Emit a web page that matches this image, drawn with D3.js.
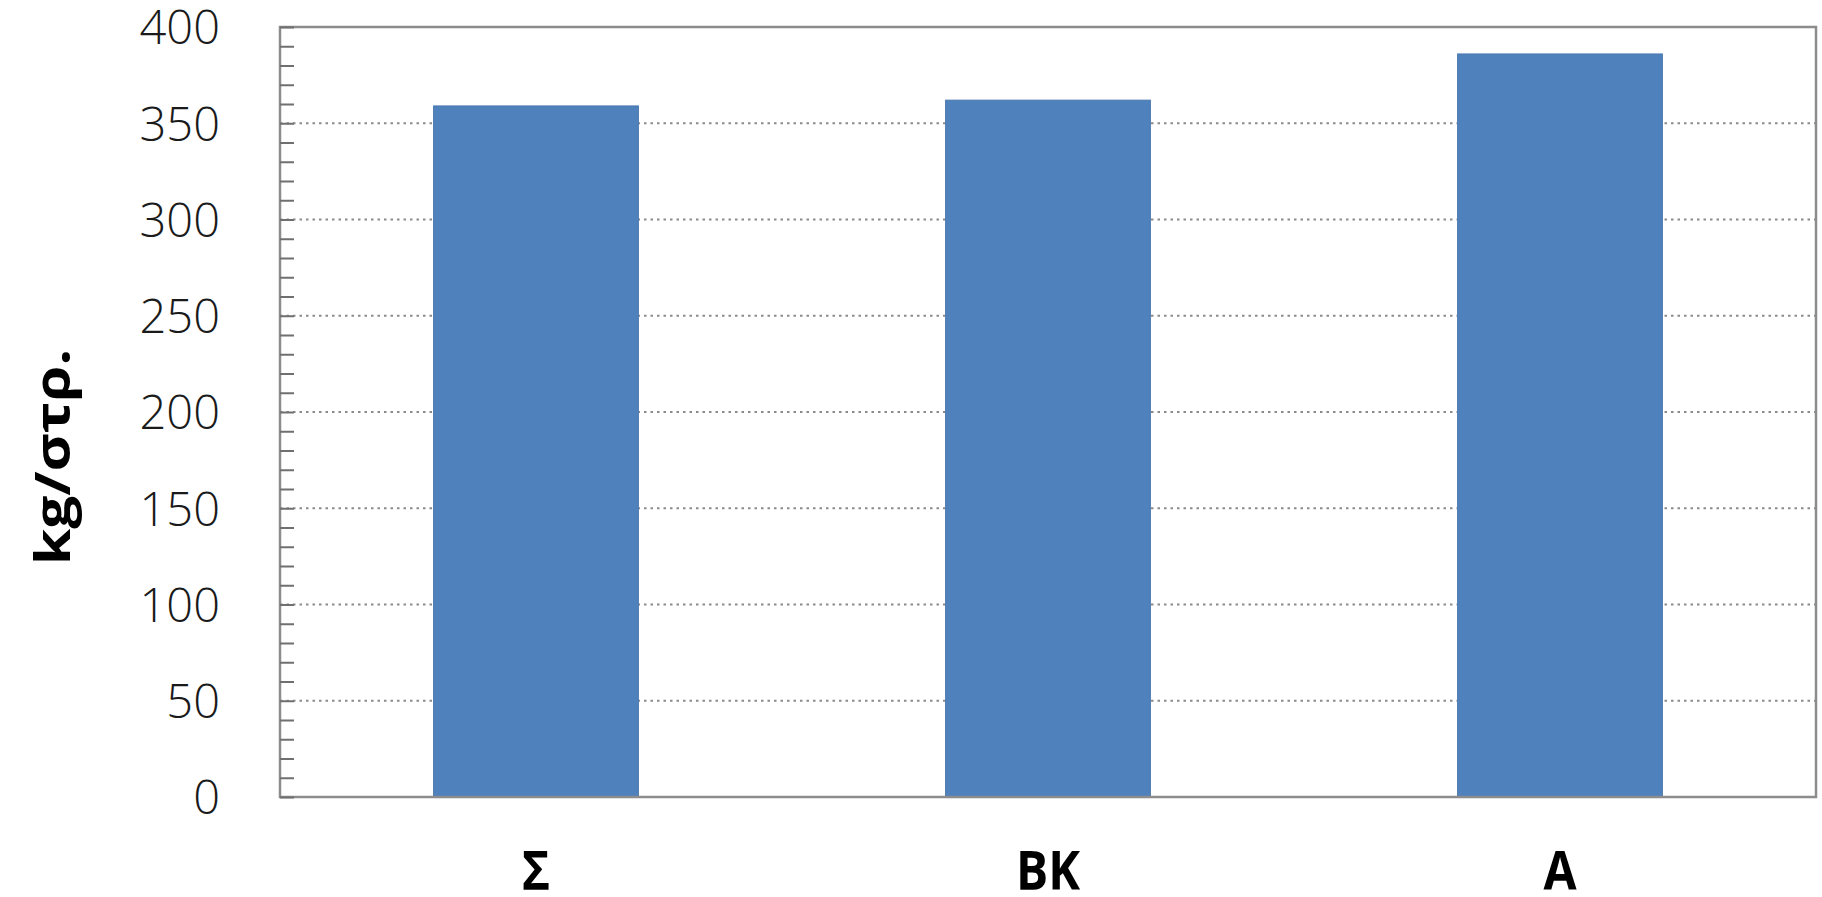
<!DOCTYPE html>
<html>
<head>
<meta charset="utf-8">
<script src="https://cdn.jsdelivr.net/npm/d3@7"></script>
<style>
  html, body { margin: 0; padding: 0; background: #fff; }
  svg { display: block; }
</style>
</head>
<body>
<svg id="chart" width="1822" height="897"></svg>
<script>
// Yield per stremma for each category
const categories = ["Σ", "ΒΚ", "Α"];
const values = [359, 362, 386];
const majorTicks = [0, 50, 100, 150, 200, 250, 300, 350, 400];
const minorTicks = d3.range(0, 401, 10);
const yTitle = "kg/στρ.";

const svg = d3.select("#chart");
const plot = { left: 280, right: 1816, top: 27, bottom: 797 };

const x = d3.scaleBand()
  .domain(categories)
  .range([plot.left, plot.right])
  .paddingInner(0.6)
  .paddingOuter(0.3);

const y = d3.scaleLinear()
  .domain([0, 400])
  .range([plot.bottom, plot.top]);

// dotted horizontal gridlines
svg.append("g")
  .selectAll("line")
  .data(majorTicks.filter(v => v > 0 && v < 400))
  .join("line")
  .attr("x1", plot.left)
  .attr("x2", plot.right)
  .attr("y1", d => y(d))
  .attr("y2", d => y(d))
  .attr("stroke", "#8a8a8a")
  .attr("stroke-width", 2)
  .attr("stroke-dasharray", "2.5,4");

// bars
svg.append("g")
  .selectAll("rect")
  .data(values)
  .join("rect")
  .attr("x", (d, i) => x(categories[i]))
  .attr("width", x.bandwidth())
  .attr("y", d => y(d))
  .attr("height", d => y(0) - y(d))
  .attr("fill", "#4f81bd")
  .attr("stroke", "#4a78b0")
  .attr("stroke-width", 1);

// frame of the plot area
svg.append("rect")
  .attr("x", plot.left)
  .attr("y", plot.top)
  .attr("width", plot.right - plot.left)
  .attr("height", plot.bottom - plot.top)
  .attr("fill", "none")
  .attr("stroke", "#8c8c8c")
  .attr("stroke-width", 2.5);

// minor tick marks pointing into the plot
const minorAxis = svg.append("g")
  .attr("transform", `translate(${plot.left},0)`)
  .call(d3.axisRight(y).tickValues(minorTicks).tickSize(14).tickFormat(""));
minorAxis.select(".domain").remove();
minorAxis.selectAll(".tick line").attr("stroke", "#6f6f6f").attr("stroke-width", 2);

// value labels on the y axis
const labelAxis = svg.append("g")
  .attr("transform", `translate(${plot.left},0)`)
  .call(d3.axisLeft(y).tickValues(majorTicks).tickSize(0).tickPadding(60));
labelAxis.select(".domain").remove();
labelAxis.selectAll(".tick text")
  .attr("font-family", "'Open Sans', sans-serif")
  .attr("font-weight", 300)
  .attr("font-size", 47)
  .attr("fill", "#1a1a1a")
  .attr("dy", "0.36em");

// category labels
const xAxis = svg.append("g")
  .attr("transform", `translate(0,${plot.bottom})`)
  .call(d3.axisBottom(x).tickSize(0).tickPadding(0));
xAxis.select(".domain").remove();
xAxis.selectAll(".tick text")
  .attr("font-family", "'Open Sans', sans-serif")
  .attr("font-weight", "bold")
  .attr("font-size", 48)
  .attr("fill", "#000")
  .attr("dy", 0)
  .attr("y", 0)
  .attr("transform", "translate(0,93) scale(1,1.12)");

// y axis title
svg.append("text")
  .attr("transform", "translate(70,457) rotate(-90) scale(1.22,1)")
  .attr("text-anchor", "middle")
  .attr("font-family", "'Open Sans', sans-serif")
  .attr("font-weight", "bold")
  .attr("font-size", 48)
  .attr("fill", "#000")
  .text(yTitle);
</script>
</body>
</html>
